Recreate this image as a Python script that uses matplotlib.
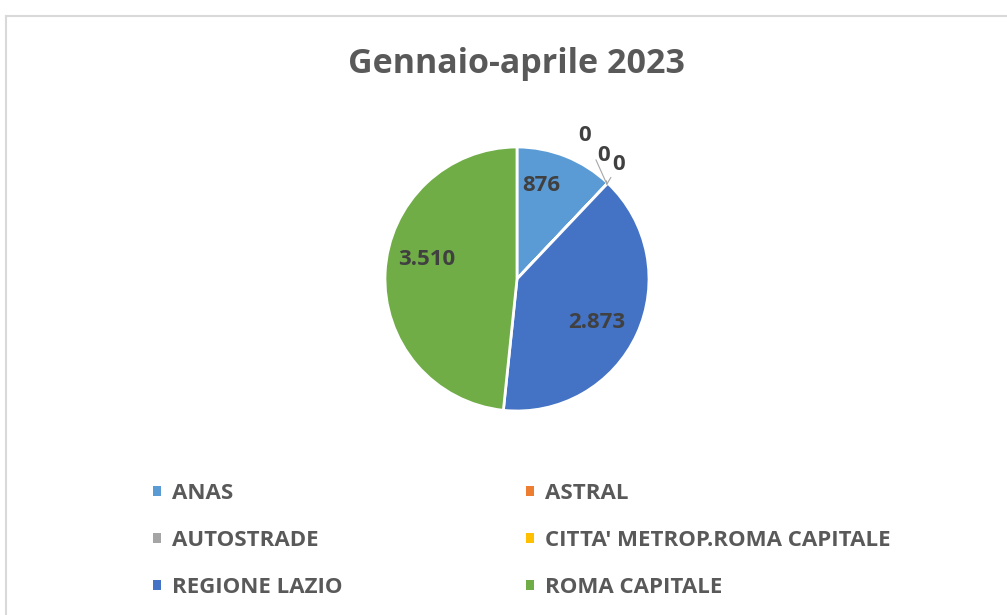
import numpy as np
import matplotlib.pyplot as plt
from matplotlib.patches import Patch
from matplotlib.lines import Line2D

# data
categories = ["ANAS", "ASTRAL", "AUTOSTRADE", "CITTA' METROP.ROMA CAPITALE",
              "REGIONE LAZIO", "ROMA CAPITALE"]
values = [876, 0, 0, 0, 2873, 3510]
colors = ["#5B9BD5", "#ED7D31", "#A5A5A5", "#FFC000", "#4472C4", "#70AD47"]
title = "Gennaio-aprile 2023"

plt.rcParams['font.family'] = ['Open Sans', 'DejaVu Sans']
text_grey = "#595959"
label_grey = "#404040"


def fmt(v):
    return f"{v:,}".replace(",", ".")


fig = plt.figure(figsize=(10.07, 6.15), dpi=100)

# chart area border (left and top edges visible)
fig.add_artist(Line2D([6 / 1007, 6 / 1007], [0, 1 - 16 / 615],
                      transform=fig.transFigure, color="#D9D9D9", lw=1.5))
fig.add_artist(Line2D([6 / 1007, 1], [1 - 16 / 615, 1 - 16 / 615],
                      transform=fig.transFigure, color="#D9D9D9", lw=1.5))

ax = fig.add_axes([0.3823, 0.3317, 0.2622, 0.4293])
wedges, _ = ax.pie(values, colors=colors, startangle=90, counterclock=False,
                   wedgeprops=dict(edgecolor="white", linewidth=2))
ax.set_xlim(-1, 1)
ax.set_ylim(-1, 1)
ax.set_aspect("equal")
ax.axis("off")

# data labels (best-fit style placement: radius and angle tweak per slice)
label_r = {0: 0.73, 4: 0.69, 5: 0.70}
label_shift = {0: 7, 4: -4, 5: -9}
zero_offsets = [(-22, 49), (-3, 29), (12, 20)]
zi = 0
for i, (w, v) in enumerate(zip(wedges, values)):
    if v > 0:
        mid = (w.theta1 + w.theta2) / 2 + label_shift.get(i, 0)
        r = label_r.get(i, 0.7)
        x = r * np.cos(np.deg2rad(mid))
        y = r * np.sin(np.deg2rad(mid))
        ax.text(x, y, fmt(v), ha="center", va="center", fontsize=16,
                fontweight="bold", color=label_grey)
    else:
        ang = np.deg2rad(w.theta1)
        ex, ey = np.cos(ang), np.sin(ang)
        dx, dy = zero_offsets[zi]
        zi += 1
        ax.annotate(fmt(v), xy=(ex * 0.99, ey * 0.99), xytext=(dx, dy),
                    textcoords="offset pixels", ha="center", va="center",
                    fontsize=16, fontweight="bold", color=label_grey,
                    annotation_clip=False,
                    arrowprops=dict(arrowstyle="-", color="#A6A6A6", lw=0.8,
                                    shrinkA=9, shrinkB=0))

fig.text(0.5134, 1 - 64 / 615, title, ha="center", va="center",
         fontsize=24.5, fontweight="bold", color=text_grey)

# legend, row-wise ordering like the original
order = [0, 2, 4, 1, 3, 5]
handles = [Patch(facecolor=colors[k], edgecolor="none") for k in order]
labels = [categories[k] for k in order]
fig.legend(handles, labels, ncol=2, loc="upper left",
           bbox_to_anchor=(133 / 1007, 1 - 463 / 615), frameon=False,
           handlelength=0.35, handleheight=0.35,
           handletextpad=0.5, labelspacing=1.17, columnspacing=8.27,
           labelcolor=text_grey, prop=dict(weight="bold", size=16))

fig.savefig("out.png", dpi=100)
